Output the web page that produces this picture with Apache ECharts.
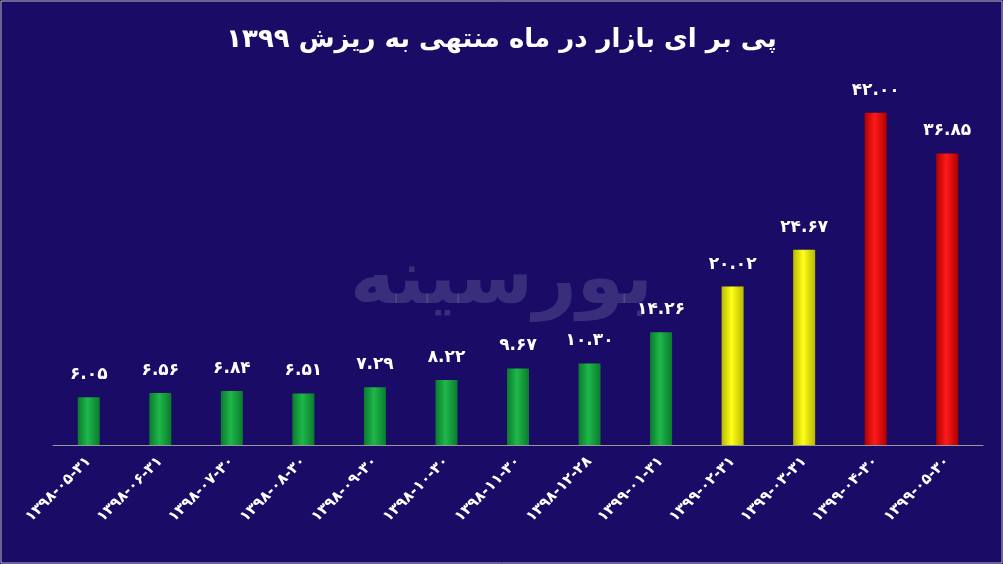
<!DOCTYPE html><html><head><meta charset="utf-8"><script src="https://cdn.jsdelivr.net/npm/echarts@6/dist/echarts.min.js"></script>
<style>html,body{margin:0;padding:0;background:#1a0b66}#c{width:1003px;height:564px}</style></head><body><div id="c"></div><script>
const categories=['۱۳۹۸-۰۵-۳۱','۱۳۹۸-۰۶-۳۱','۱۳۹۸-۰۷-۳۰','۱۳۹۸-۰۸-۳۰','۱۳۹۸-۰۹-۳۰','۱۳۹۸-۱۰-۳۰','۱۳۹۸-۱۱-۳۰','۱۳۹۸-۱۲-۲۸','۱۳۹۹-۰۱-۳۱','۱۳۹۹-۰۲-۳۱','۱۳۹۹-۰۳-۳۱','۱۳۹۹-۰۴-۳۰','۱۳۹۹-۰۵-۳۰'];
const values=[6.05,6.56,6.84,6.51,7.29,8.22,9.67,10.30,14.26,20.02,24.67,42.00,36.85];
const valueLabels=['۶.۰۵','۶.۵۶','۶.۸۴','۶.۵۱','۷.۲۹','۸.۲۲','۹.۶۷','۱۰.۳۰','۱۴.۲۶','۲۰.۰۲','۲۴.۶۷','۴۲.۰۰','۳۶.۸۵'];
const colorGroups=['g','g','g','g','g','g','g','g','g','y','y','r','r'];
const grads={g:['#0b7a2e','#1fb84a','#0b7a2e'],y:['#b8b800','#ffff1a','#b8b800'],r:['#b00000','#ff1a1a','#b00000']};
function grad(k){const c=grads[k];return new echarts.graphic.LinearGradient(0,0,1,0,[{offset:0,color:c[0]},{offset:0.45,color:c[1]},{offset:1,color:c[2]}]);}
const ch=echarts.init(document.getElementById('c'));
ch.setOption({backgroundColor:'#1a0b66',
title:{text:'پی بر ای بازار در ماه منتهی به ریزش ۱۳۹۹',left:'center',top:22,textStyle:{color:'#fff',fontSize:26,fontWeight:'bold',fontFamily:'DejaVu Sans'}},
graphic:[{type:'rect',shape:{x:1,y:1,width:1001,height:562},style:{fill:'none',stroke:'#bbb',lineWidth:1}},
{type:'text',left:'center',top:245,z:-10,zlevel:0,silent:true,style:{text:'بورسینه',fill:'rgba(140,140,180,0.28)',font:'bold 76px DejaVu Sans'}}],
grid:{left:53,right:20,top:89,bottom:119},
xAxis:{type:'category',data:categories,axisLine:{lineStyle:{color:'#999'}},axisTick:{show:false},
axisLabel:{rotate:45,color:'#fff',fontSize:15,fontWeight:'bold',fontFamily:'DejaVu Sans',interval:0,margin:14}},
yAxis:{type:'value',min:0,max:45,show:false,splitLine:{show:false}},
series:[{type:'bar',z:5,barWidth:22,data:values.map((v,i)=>({value:v,itemStyle:{color:grad(colorGroups[i])}})),
label:{show:true,position:'top',distance:14,color:'#fff',fontSize:17,fontWeight:'bold',fontFamily:'DejaVu Sans',formatter:p=>valueLabels[p.dataIndex]}}]});
</script></body></html>
